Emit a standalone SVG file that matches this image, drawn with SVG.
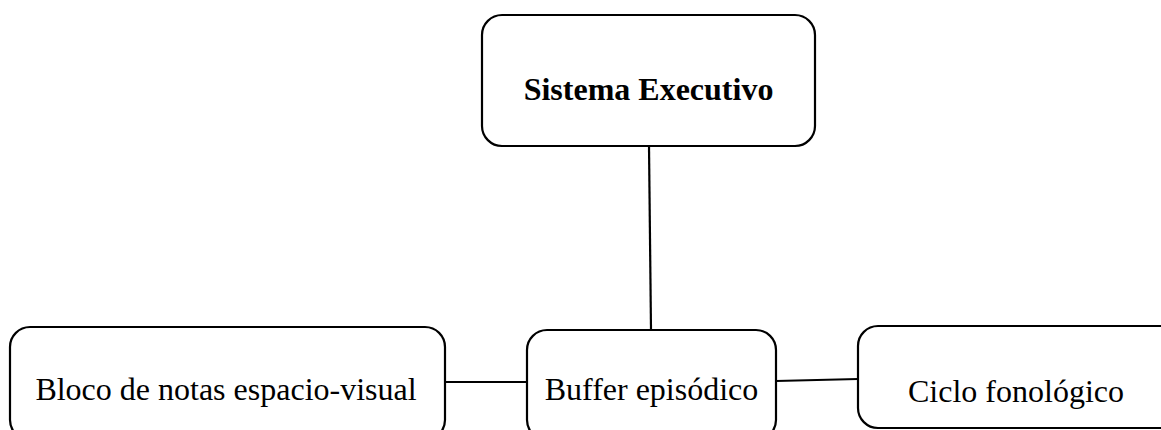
<svg xmlns="http://www.w3.org/2000/svg" width="1161" height="430" viewBox="0 0 1161 430">
<style>
.box{fill:#fff;stroke:#000;stroke-width:2.2}
.t{font-family:"Liberation Serif","Times New Roman",serif;font-size:32px;fill:#000;text-anchor:middle}
.b{font-weight:bold}
.c{stroke:#000;stroke-width:2.2;fill:none}
</style>
<rect width="1161" height="430" fill="#fff"/>
<g id="connectors">
<line class="c" x1="649" y1="146" x2="651" y2="330"/>
<line class="c" x1="445" y1="382" x2="527" y2="382"/>
<line class="c" x1="776" y1="381" x2="858" y2="379"/>
</g>
<g id="sistema-executivo">
<rect class="box" x="482" y="15" width="333" height="131" rx="20"/>
<text class="t b" x="648.5" y="100">Sistema Executivo</text>
</g>
<g id="bloco-de-notas">
<rect class="box" x="10" y="327" width="435" height="113" rx="20"/>
<text class="t" x="226" y="400">Bloco de notas espacio-visual</text>
</g>
<g id="buffer-episodico">
<rect class="box" x="527" y="330" width="249" height="110" rx="20"/>
<text class="t" x="651.5" y="400">Buffer episódico</text>
</g>
<g id="ciclo-fonologico">
<rect class="box" x="858" y="326" width="325" height="102" rx="20"/>
<text class="t" x="1016" y="402">Ciclo fonológico</text>
</g>
</svg>
